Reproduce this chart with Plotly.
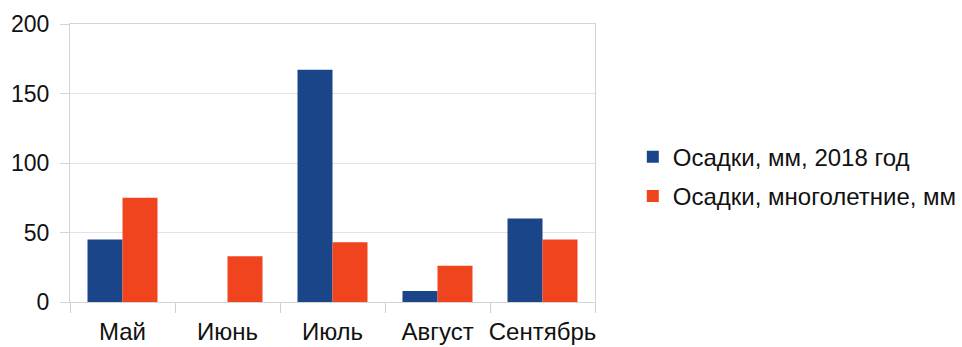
import plotly.graph_objects as go

# Monthly precipitation, mm
months = ["Май", "Июнь", "Июль", "Август", "Сентябрь"]
rain_2018 = [45, 0, 167, 8, 60]
rain_norm = [75, 33, 43, 26, 45]
series_names = ["Осадки, мм, 2018 год", "Осадки, многолетние, мм"]
y_ticks = [0, 50, 100, 150, 200]

BLUE = "#1a4588"
RED = "#f0441f"
FONT = "Liberation Sans, Arial, sans-serif"

fig = go.Figure()
fig.add_trace(go.Bar(x=months, y=rain_2018, name=series_names[0],
                     marker=dict(color=BLUE, line=dict(width=0)),
                     legendgroup="a"))
fig.add_trace(go.Bar(x=months, y=rain_norm, name=series_names[1],
                     marker=dict(color=RED, line=dict(width=0)),
                     legendgroup="b"))

fig.update_layout(
    width=962, height=347,
    margin=dict(l=70, r=367, t=24, b=45, autoexpand=False),
    paper_bgcolor="white", plot_bgcolor="white",
    barmode="group", bargap=1/3, bargroupgap=0,
    font=dict(family=FONT, size=22, color="#111111"),
    showlegend=True,
    legend=dict(
        x=1.072, xanchor="left", y=0.451, yanchor="middle",
        font=dict(family=FONT, size=24, color="#111111"),
        traceorder="grouped", tracegroupgap=5,
        bgcolor="rgba(0,0,0,0)", itemclick=False,
    ),
    xaxis=dict(
        tickson="boundaries", ticks="outside", ticklen=10, tickcolor="#cfcfcf",
        showline=True, linecolor="#d4d4d4", linewidth=1, mirror=True,
        showgrid=False, tickfont=dict(size=24), tickangle=0,
        ticklabelstandoff=8, automargin=False,
    ),
    yaxis=dict(
        range=[0, 200], tickvals=y_ticks, ticks="outside", ticklen=9,
        tickcolor="#d4d4d4", showline=True, linecolor="#d4d4d4", linewidth=1,
        mirror=True, showgrid=True, gridcolor="#e2e2e2", gridwidth=1,
        zeroline=False, tickfont=dict(size=23), ticklabelstandoff=6,
        automargin=False, fixedrange=True,
    ),
)

fig.write_html("out.html")
